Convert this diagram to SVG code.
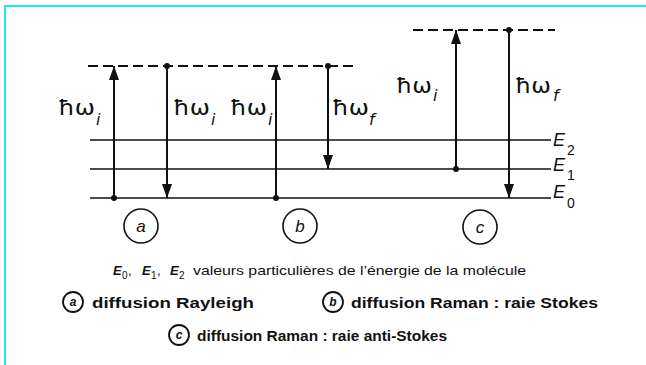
<svg xmlns="http://www.w3.org/2000/svg" width="646" height="365" viewBox="0 0 646 365">
<defs>
<style>
.lvl{stroke:#111;stroke-width:1.6;fill:none}
.dash{stroke:#111;stroke-width:2;stroke-dasharray:10 5;fill:none}
.arr{stroke:#111;stroke-width:2;fill:none}
.dot{fill:#111}
.hw{font-family:"DejaVu Sans",sans-serif;font-size:21px;fill:#111}
.sub{font-family:"DejaVu Sans",sans-serif;font-style:italic;font-size:16px;fill:#111}
.E{font-family:"Liberation Sans",sans-serif;font-style:italic;font-size:18px;fill:#111}
.Es{font-family:"Liberation Sans",sans-serif;font-size:14px;fill:#111}
.circ{stroke:#111;stroke-width:1.6;fill:none}
.cl{font-family:"Liberation Sans",sans-serif;font-style:italic;font-size:17px;fill:#111;text-anchor:middle}
.leg{font-family:"Liberation Sans",sans-serif;font-weight:bold;font-size:15px;fill:#111}
.note{font-family:"Liberation Sans",sans-serif;font-size:13px;fill:#111}
.noteE{font-family:"Liberation Sans",sans-serif;font-style:italic;font-weight:bold;font-size:13px;fill:#111}
.noteS{font-family:"Liberation Sans",sans-serif;font-size:10px;fill:#111}
.lc{stroke:#111;stroke-width:1.8;fill:none}
.lcl{font-family:"Liberation Sans",sans-serif;font-style:italic;font-weight:bold;font-size:12px;fill:#111;text-anchor:middle}
</style>
<marker id="ah2" viewBox="0 0 14 10" refX="14" refY="5" markerWidth="14" markerHeight="10" markerUnits="userSpaceOnUse" orient="auto">
<path d="M0,0 L14,5 L0,10 Z" fill="#111"/>
</marker>
</defs>
<rect width="646" height="365" fill="#fff"/>
<g id="border">
<line x1="4" y1="6" x2="646" y2="6" stroke="#22e6f0" stroke-width="2"/>
<line x1="5" y1="6" x2="5" y2="365" stroke="#22e6f0" stroke-width="2"/>
</g>
<g id="levels">
<line class="dash" x1="88" y1="66" x2="355" y2="66"/>
<line class="dash" x1="413" y1="30" x2="555" y2="30"/>
<line class="lvl" x1="90" y1="140" x2="551" y2="140"/>
<line class="lvl" x1="90" y1="169" x2="551" y2="169"/>
<line class="lvl" x1="90" y1="198" x2="551" y2="198"/>
</g>
<g id="energy-labels">
<text class="E" x="553" y="146">E</text><text class="Es" x="567" y="155">2</text>
<text class="E" x="553" y="171">E</text><text class="Es" x="567" y="180">1</text>
<text class="E" x="553" y="198">E</text><text class="Es" x="567" y="208">0</text>
</g>
<g id="connectors">
<line class="arr" x1="114" y1="198" x2="114" y2="66" marker-end="url(#ah2)"/>
<circle class="dot" cx="114" cy="198" r="3"/>
<line class="arr" x1="167" y1="66" x2="167" y2="198" marker-end="url(#ah2)"/>
<circle class="dot" cx="167" cy="66" r="3"/>
<line class="arr" x1="276" y1="198" x2="276" y2="66" marker-end="url(#ah2)"/>
<circle class="dot" cx="276" cy="198" r="3"/>
<line class="arr" x1="328" y1="66" x2="328" y2="169" marker-end="url(#ah2)"/>
<circle class="dot" cx="328" cy="66" r="3"/>
<line class="arr" x1="456" y1="169" x2="456" y2="30" marker-end="url(#ah2)"/>
<circle class="dot" cx="456" cy="169" r="3"/>
<line class="arr" x1="509" y1="30" x2="509" y2="198" marker-end="url(#ah2)"/>
<circle class="dot" cx="509" cy="30" r="3"/>
</g>
<g id="photon-labels">
<text class="hw" x="58" y="115" textLength="37" lengthAdjust="spacingAndGlyphs">ħω</text><text class="sub" x="96" y="125">i</text>
<text class="hw" x="173" y="115" textLength="37" lengthAdjust="spacingAndGlyphs">ħω</text><text class="sub" x="211" y="125">i</text>
<text class="hw" x="230" y="115" textLength="37" lengthAdjust="spacingAndGlyphs">ħω</text><text class="sub" x="268" y="125">i</text>
<text class="hw" x="332" y="115" textLength="37" lengthAdjust="spacingAndGlyphs">ħω</text><text class="sub" x="369" y="125">f</text>
<text class="hw" x="396" y="93" textLength="36" lengthAdjust="spacingAndGlyphs">ħω</text><text class="sub" x="433" y="101">i</text>
<text class="hw" x="515" y="93" textLength="36" lengthAdjust="spacingAndGlyphs">ħω</text><text class="sub" x="553" y="101">f</text>
</g>
<g id="node-a">
<circle class="circ" cx="141" cy="226" r="17"/>
<text class="cl" x="141" y="232">a</text>
</g>
<g id="node-b">
<circle class="circ" cx="300" cy="226" r="17"/>
<text class="cl" x="300" y="232">b</text>
</g>
<g id="node-c">
<circle class="circ" cx="480" cy="227" r="17"/>
<text class="cl" x="480" y="233">c</text>
</g>
<g id="caption">
<text class="noteE" x="113" y="275">E</text><text class="noteS" x="122" y="279">0</text><text class="note" x="128" y="275">,</text>
<text class="noteE" x="142" y="275">E</text><text class="noteS" x="151" y="279">1</text><text class="note" x="157" y="275">,</text>
<text class="noteE" x="170" y="275">E</text><text class="noteS" x="179" y="279">2</text>
<text class="note" x="193" y="275" textLength="333" lengthAdjust="spacingAndGlyphs">valeurs particulières de l’énergie de la molécule</text>
</g>
<g id="legend-a">
<circle class="lc" cx="73" cy="302" r="10"/>
<text class="lcl" x="73" y="306">a</text>
<text class="leg" x="92" y="308" textLength="162" lengthAdjust="spacingAndGlyphs">diffusion Rayleigh</text>
</g>
<g id="legend-b">
<circle class="lc" cx="333" cy="302" r="10"/>
<text class="lcl" x="333" y="306">b</text>
<text class="leg" x="351" y="308" textLength="247" lengthAdjust="spacingAndGlyphs">diffusion Raman : raie Stokes</text>
</g>
<g id="legend-c">
<circle class="lc" cx="179" cy="335" r="10"/>
<text class="lcl" x="179" y="339">c</text>
<text class="leg" x="197" y="341" textLength="250" lengthAdjust="spacingAndGlyphs">diffusion Raman : raie anti-Stokes</text>
</g>
</svg>
